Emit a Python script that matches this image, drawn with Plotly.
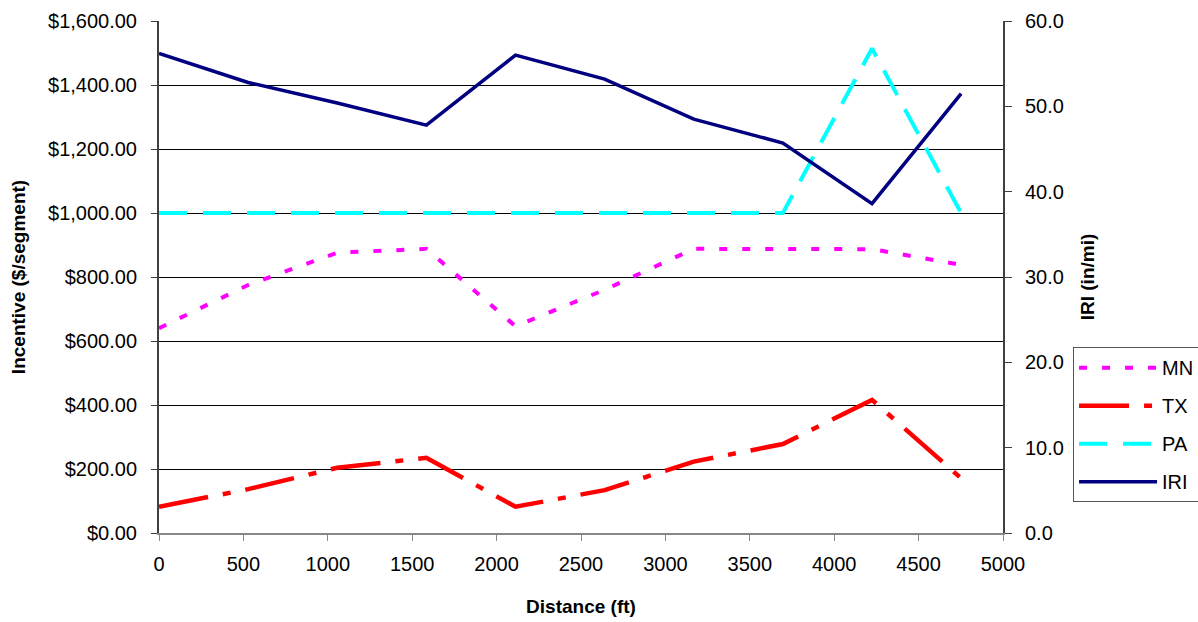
import plotly.graph_objects as go

distance_ft = [0, 528, 1056, 1584, 2112, 2640, 3168, 3696, 4224, 4752]
mn_incentive = [640, 775, 876, 888, 646, 760, 888, 888, 887, 838]
tx_incentive = [82, 137, 204, 235, 82, 134, 223, 278, 416, 171]
pa_incentive = [1000, 1000, 1000, 1000, 1000, 1000, 1000, 1000, 1514, 1000]
iri_values = [56.2, 52.8, 50.4, 47.8, 56.0, 53.2, 48.5, 45.7, 38.6, 51.5]

FONT = "Liberation Sans, Arial, sans-serif"

fig = go.Figure()
fig.add_trace(go.Scatter(x=distance_ft, y=mn_incentive, name="MN", mode="lines",
                         legendgroup="MN",
                         line=dict(color="#FF00FF", width=4, dash="8px,15px")))
fig.add_trace(go.Scatter(x=distance_ft, y=tx_incentive, name="TX", mode="lines",
                         legendgroup="TX",
                         line=dict(color="#FF0000", width=4.5, dash="50px,15px,8px,15px")))
fig.add_trace(go.Scatter(x=distance_ft, y=pa_incentive, name="PA", mode="lines",
                         legendgroup="PA",
                         line=dict(color="#00FFFF", width=4, dash="28px,16px")))
fig.add_trace(go.Scatter(x=distance_ft, y=iri_values, name="IRI", mode="lines",
                         legendgroup="IRI", yaxis="y2",
                         line=dict(color="#000080", width=3.5)))

fig.update_layout(
    width=1198, height=622,
    margin=dict(l=159, r=195, t=21, b=89, autoexpand=False),
    paper_bgcolor="white", plot_bgcolor="white",
    font=dict(family=FONT, size=20, color="black"),
    showlegend=True,
    legend=dict(x=1.083, y=0.363, xanchor="left", yanchor="top",
                bgcolor="white", bordercolor="#555555", borderwidth=1,
                font=dict(family=FONT, size=20, color="black"),
                traceorder="grouped", tracegroupgap=9, itemwidth=78),
    xaxis=dict(range=[0, 5000], dtick=500, tick0=0, showgrid=False,
               showline=True, linecolor="#888888", linewidth=2,
               ticks="outside", ticklen=6, tickcolor="#888888",
               ticklabelstandoff=6,
               tickfont=dict(family=FONT, size=20),
               title=dict(text="<b>Distance (ft)</b>", font=dict(family=FONT, size=19), standoff=26),
               zeroline=False),
    yaxis=dict(range=[0, 1600], dtick=200, tick0=0, tickformat="$,.2f",
               showgrid=True, gridcolor="black", gridwidth=1,
               showline=True, linecolor="#404040", linewidth=2,
               ticks="outside", ticklen=6, tickcolor="#404040",
               ticklabelstandoff=10,
               tickfont=dict(family=FONT, size=20),
               title=dict(text="<b>Incentive ($/segment)</b>", font=dict(family=FONT, size=19), standoff=17),
               zeroline=False),
    yaxis2=dict(range=[0, 60], dtick=10, tick0=0, tickformat=".1f",
                overlaying="y", side="right", showgrid=False,
                showline=True, linecolor="#404040", linewidth=2,
                ticks="outside", ticklen=7, tickcolor="#404040",
                ticklabelstandoff=9,
                tickfont=dict(family=FONT, size=20),
                title=dict(text="<b>IRI (in/mi)</b>", font=dict(family=FONT, size=19), standoff=18),
                zeroline=False),
)

fig.write_html("out.html")
